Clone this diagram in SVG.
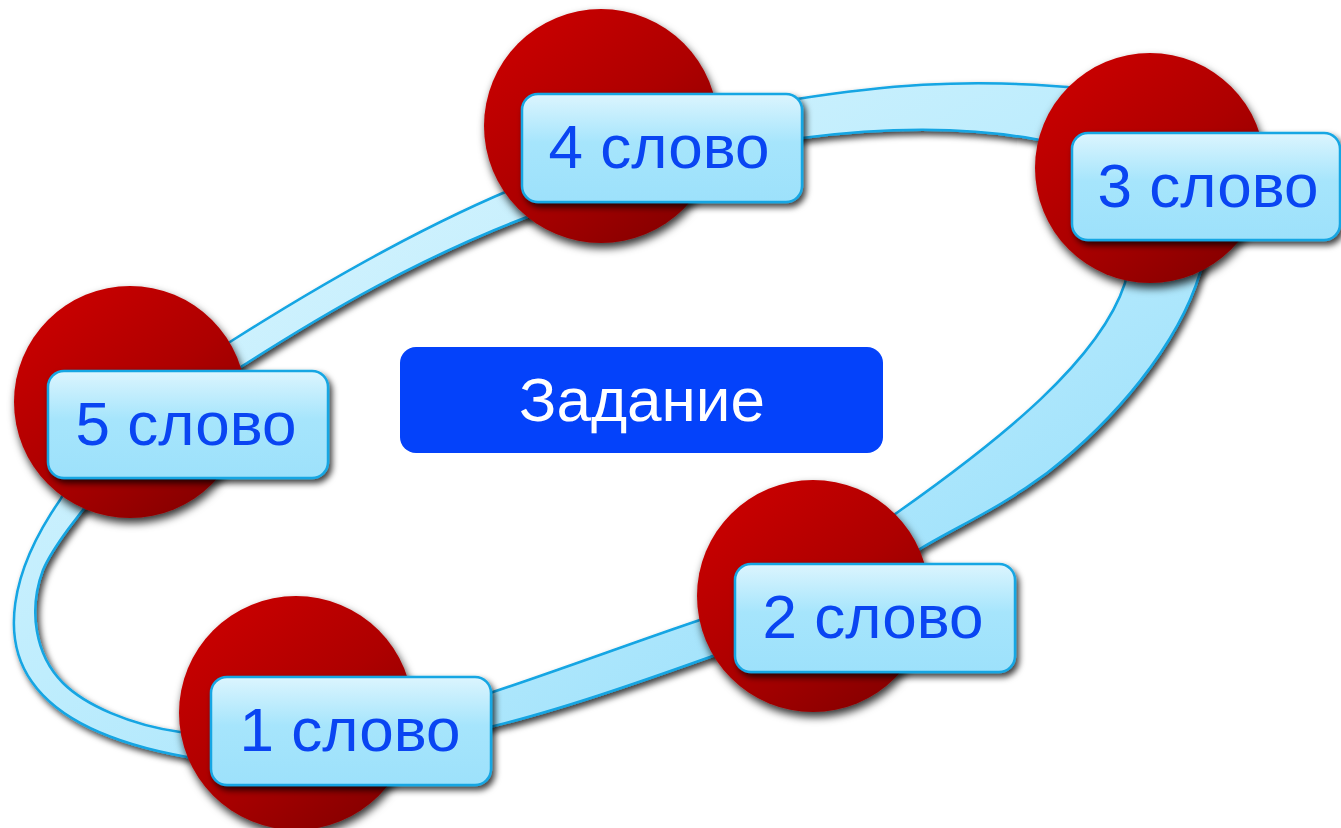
<svg xmlns="http://www.w3.org/2000/svg" width="1341" height="828" viewBox="0 0 1341 828">
<defs>
<linearGradient id="ringG" x1="0" y1="0" x2="1" y2="1">
<stop offset="0" stop-color="#e2f7fe"/>
<stop offset="0.45" stop-color="#bfedfd"/>
<stop offset="1" stop-color="#8bdafa"/>
</linearGradient>
<linearGradient id="ballG" x1="0.15" y1="0.1" x2="0.85" y2="0.95">
<stop offset="0" stop-color="#c80000"/>
<stop offset="0.5" stop-color="#ad0000"/>
<stop offset="1" stop-color="#850000"/>
</linearGradient>
<linearGradient id="boxG" x1="0" y1="0" x2="0" y2="1">
<stop offset="0" stop-color="#dcf5fe"/>
<stop offset="0.45" stop-color="#a6e5fc"/>
<stop offset="1" stop-color="#9de1fb"/>
</linearGradient>
<filter id="sh" x="-20%" y="-20%" width="140%" height="140%">
<feDropShadow dx="3" dy="4" stdDeviation="3" flood-color="#000" flood-opacity="0.75"/>
</filter>
<filter id="shB" x="-20%" y="-20%" width="140%" height="140%">
<feDropShadow dx="2" dy="5" stdDeviation="4" flood-color="#000" flood-opacity="0.8"/>
</filter>
</defs>
<style>
.ball{fill:url(#ballG);filter:url(#shB);}
.box{fill:url(#boxG);stroke:#15a6e3;stroke-width:2.5;filter:url(#sh);}
.lbl{font-family:"Liberation Sans",Arial,sans-serif;font-size:62px;fill:#0a45f2;text-anchor:middle;}
.task{font-family:"Liberation Sans",Arial,sans-serif;font-size:62px;fill:#ffffff;text-anchor:middle;}
</style>
<rect width="1341" height="828" fill="#ffffff"/>
<g id="connectors">
<path fill="url(#ringG)" fill-rule="evenodd" stroke="#12a5e3" stroke-width="2.5" filter="url(#sh)" d="M 233,340 C 320,285 420,228 510,190 C 600,150 700,112 797,99 C 880,86 960,78 1067,87 C 1180,100 1230,180 1200,273 C 1178,345 1115,420 1047,473 C 1000,508 960,525 923,547 C 850,595 780,630 710,657 C 640,682 560,710 490,727 C 400,750 280,770 187,757 C 120,745 60,722 32,682 C 2,640 8,575 60,500 C 100,430 170,380 233,340 Z M 247,363 C 330,310 420,258 527,217 C 620,180 720,150 802,138 C 880,128 960,125 1040,140 C 1120,160 1140,230 1125,283 C 1100,360 1000,440 898,512 C 830,560 770,595 700,620 C 640,640 560,670 490,693 C 400,720 270,745 180,732 C 130,725 85,705 63,683 C 35,655 28,610 43,570 C 60,530 150,420 247,363 Z"/>
</g>
<g id="center">
<rect x="400" y="347" width="483" height="106" rx="16" fill="#0442fa"/>
<text class="task" x="642" y="421">Задание</text>
</g>
<g id="node4">
<circle class="ball" cx="601" cy="126" r="117"/>
<rect class="box" x="522" y="94" width="280" height="108" rx="16"/>
<text class="lbl" x="659" y="168">4 слово</text>
</g>
<g id="node3">
<circle class="ball" cx="1150" cy="168" r="115"/>
<rect class="box" x="1072" y="133" width="268" height="107" rx="16"/>
<text class="lbl" x="1208" y="207">3 слово</text>
</g>
<g id="node5">
<circle class="ball" cx="130" cy="402" r="116"/>
<rect class="box" x="48" y="371" width="280" height="107" rx="16"/>
<text class="lbl" x="186" y="445">5 слово</text>
</g>
<g id="node2">
<circle class="ball" cx="813" cy="596" r="116"/>
<rect class="box" x="735" y="564" width="280" height="108" rx="16"/>
<text class="lbl" x="873" y="638">2 слово</text>
</g>
<g id="node1">
<circle class="ball" cx="296" cy="713" r="117"/>
<rect class="box" x="211" y="677" width="280" height="108" rx="16"/>
<text class="lbl" x="350" y="751">1 слово</text>
</g>
</svg>
